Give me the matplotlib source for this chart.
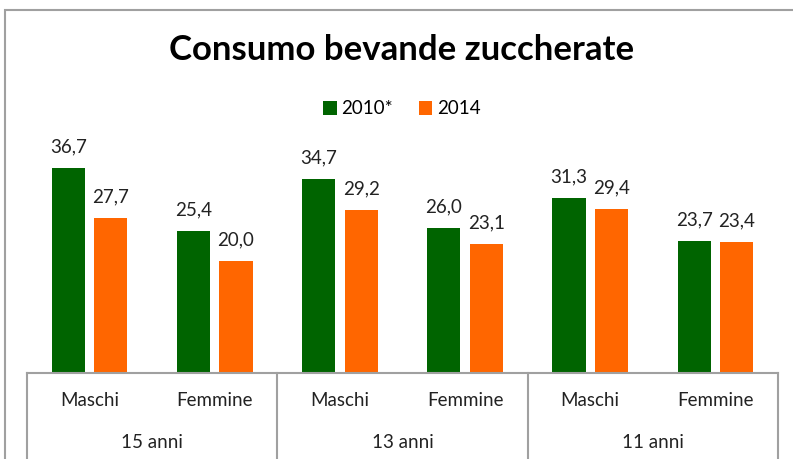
import matplotlib.pyplot as plt
import numpy as np
from matplotlib.patches import Rectangle

plt.rcParams['font.family'] = ['Lato', 'DejaVu Sans']

# Data
ages = ["15 anni", "13 anni", "11 anni"]
sexes = ["Maschi", "Femmine"]
v2010 = [36.7, 25.4, 34.7, 26.0, 31.3, 23.7]
v2014 = [27.7, 20.0, 29.2, 23.1, 29.4, 23.4]
series_names = ["2010*", "2014"]

green = '#006400'
orange = '#FF6600'
grey = '#A0A0A0'
W, H = 793, 459

fig = plt.figure(figsize=(W / 100, H / 100), dpi=100)
ax = fig.add_axes([27 / W, (H - 373) / H, (778 - 27) / W, 223.6 / H])

x = np.arange(len(v2010))
bw = 0.265
off = 0.17
b1 = ax.bar(x - off, v2010, bw, color=green, label=series_names[0])
b2 = ax.bar(x + off, v2014, bw, color=orange, label=series_names[1])

for bars, vals in ((b1, v2010), (b2, v2014)):
    for b, v in zip(bars, vals):
        ax.annotate(f"{v:.1f}".replace('.', ','), (b.get_x() + b.get_width() / 2, v),
                    xytext=(0, 9), textcoords='offset points', ha='center', va='bottom',
                    fontsize=13.5, color='#222222')

ax.set_xlim(-0.5, len(x) - 0.5)
ax.set_ylim(0, 40)
for s in ('left', 'right', 'top'):
    ax.spines[s].set_visible(False)
ax.spines['bottom'].set_color(grey)
ax.spines['bottom'].set_linewidth(1.5)
ax.set_xticks([])
ax.set_yticks([])

# category axis with groups
tr = ax.get_xaxis_transform()
y_bottom = -(H - 373 + 10) / 223.6
for xs in (-0.5, 1.5, 3.5, 5.5):
    ax.plot([xs, xs], [0, y_bottom], color=grey, lw=1.5, transform=tr, clip_on=False)
for i in x:
    ax.text(i, -28 / 223.6, sexes[i % 2], transform=tr, ha='center', va='center',
            fontsize=13.5, color='#222222')
for g, name in enumerate(ages):
    ax.text(2 * g + 0.5, -69 / 223.6, name, transform=tr, ha='center', va='center',
            fontsize=13.5, color='#222222')

fig.text(402 / W, 1 - 50 / H, "Consumo bevande zuccherate", ha='center', va='center',
         fontsize=25, fontweight='bold', color='black')

fig.legend(handles=[b1, b2], loc='center', bbox_to_anchor=(402 / W, 1 - 109 / H), ncol=2,
           frameon=False, fontsize=13.5, handlelength=0.7, handleheight=0.7,
           handletextpad=0.25, columnspacing=1.4)

fig.add_artist(Rectangle((5 / W, -0.1), 2, (H - 10) / H + 0.1, transform=fig.transFigure,
                         fill=False, edgecolor=grey, lw=1.5))

fig.savefig("out.png", dpi=100)
